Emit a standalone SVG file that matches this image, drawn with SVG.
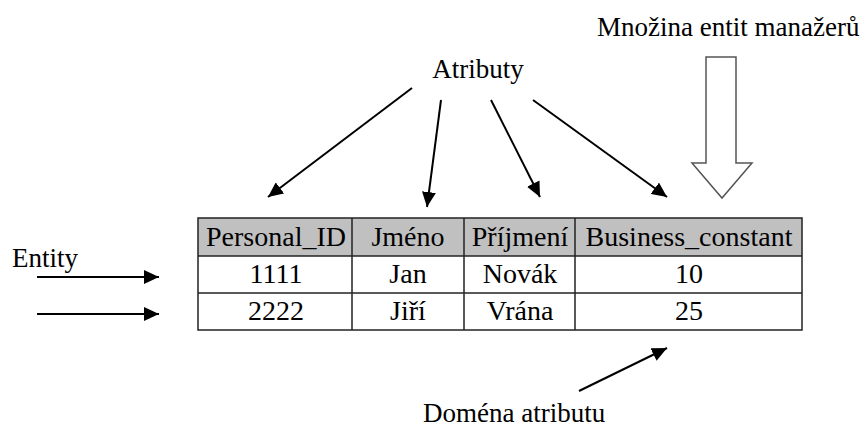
<svg xmlns="http://www.w3.org/2000/svg" width="866" height="428" viewBox="0 0 866 428">
<style>
text{font-family:'Liberation Serif','Times New Roman',serif;font-size:27px;fill:#000}
.c{text-anchor:middle}
.t{font-size:28px}
.ln{stroke:#000;stroke-width:2;fill:none}
.tb{stroke:#222;stroke-width:1.5}
</style>
<defs>
<marker id="ah" markerUnits="userSpaceOnUse" markerWidth="16" markerHeight="14" refX="15" refY="7" orient="auto">
<path d="M0,0 L15,7 L0,14 z" fill="#000"/>
</marker>
</defs>
<g id="table">
<rect x="198" y="218" width="604" height="38" fill="#c0c0c0"/>
<rect x="198" y="256" width="604" height="74" fill="#fff"/>
<rect x="198" y="218" width="604" height="112" fill="none" class="tb"/>
<line x1="198" y1="256" x2="802" y2="256" class="tb"/>
<line x1="198" y1="293" x2="802" y2="293" class="tb"/>
<line x1="352" y1="218" x2="352" y2="330" class="tb"/>
<line x1="464" y1="218" x2="464" y2="330" class="tb"/>
<line x1="575" y1="218" x2="575" y2="330" class="tb"/>
<text class="c t" x="276" y="246">Personal_ID</text>
<text class="c t" x="408" y="246">Jméno</text>
<text class="c t" x="520" y="246">Příjmení</text>
<text class="c t" x="689" y="246">Business_constant</text>
<text class="c t" x="276" y="283">1111</text>
<text class="c t" x="408" y="283">Jan</text>
<text class="c t" x="520" y="283">Novák</text>
<text class="c t" x="689" y="283">10</text>
<text class="c t" x="276" y="320">2222</text>
<text class="c t" x="408" y="320">Jiří</text>
<text class="c t" x="520" y="320">Vrána</text>
<text class="c t" x="689" y="320">25</text>
</g>
<g id="atributy"><text class="c" x="478" y="78">Atributy</text></g>
<g id="mnozina"><text x="597" y="36">Množina entit manažerů</text></g>
<g id="entity"><text x="12" y="267">Entity</text></g>
<g id="domena"><text x="423" y="422">Doména atributu</text></g>
<g id="hollow-arrow">
<path d="M706,57 L736,57 L736,163 L752,163 L722,198 L692,163 L706,163 Z" fill="#fff" stroke="#555" stroke-width="1.5"/>
</g>
<g id="connectors">
<line class="ln" x1="412" y1="88" x2="268" y2="197" marker-end="url(#ah)"/>
<line class="ln" x1="441" y1="100" x2="427" y2="207" marker-end="url(#ah)"/>
<line class="ln" x1="491" y1="100" x2="540" y2="197" marker-end="url(#ah)"/>
<line class="ln" x1="533" y1="100" x2="667" y2="197" marker-end="url(#ah)"/>
<line class="ln" x1="37" y1="277" x2="159" y2="277" marker-end="url(#ah)"/>
<line class="ln" x1="37" y1="314" x2="159" y2="314" marker-end="url(#ah)"/>
<line class="ln" x1="579" y1="391" x2="667" y2="348" marker-end="url(#ah)"/>
</g>
</svg>
